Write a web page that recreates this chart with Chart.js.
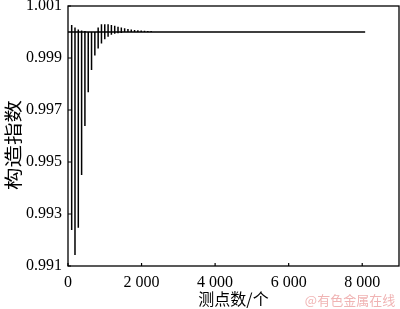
<!DOCTYPE html>
<html><head><meta charset="utf-8">
<script src="https://cdn.jsdelivr.net/npm/chart.js@4.4.0/dist/chart.umd.min.js"></script>
<style>html,body{margin:0;padding:0;background:#fff;}#wrap{width:400px;height:309px;position:relative;}</style>
</head><body><div id="wrap"><canvas id="c"></canvas></div>
<script>
const spikeX = [100,190,280,370,460,550,640,730,820,910,1000,1090,1180,1270,1360,1450,1540,1630,1720,1810,1900,1990,2080,2170,2260,2350,2440,2530,2620,2710,2800,2890,2980,3070,3160,3250];
const spikeHigh = [1.00027,1.00017,1.00010,1.00006,1.00004,1.00003,1.00002,1.00003,1.00017,1.00030,1.00030,1.00030,1.00027,1.00024,1.00020,1.00017,1.00014,1.00012,1.00010,1.00008,1.00007,1.00006,1.00005,1.00004,1.00004,1.00003,1.00003,1.00002,1.00002,1.00002,1.00001,1.00001,1.00001,1.00001,1.000005,1.000005];
const spikeLow = [0.99238,0.99142,0.99247,0.99450,0.99638,0.99768,0.99854,0.99910,0.99937,0.99956,0.99972,0.99982,0.99989,0.99993,0.99995,0.99996,0.99997,0.99997,0.99998,0.99998,0.99998,0.99999,0.99999,0.99999,0.99999,0.99999,0.99999,0.999995,0.999995,0.999995,0.999995,0.999995,0.999995,0.999995,0.999995,0.999995];
const seriesStart = 0;
const seriesEnd = 8080;
const baseValue = 1.0;
const xTicks = [0,2000,4000,6000,8000];
const xTickLabels = ['0','2 000','4 000','6 000','8 000'];
const yTicks = [0.991,0.993,0.995,0.997,0.999,1.001];
const yTickLabels = ['0.991','0.993','0.995','0.997','0.999','1.001'];
const xTitle = '测点数/个';
const yTitle = '构造指数';
const watermark = '@有色金属在线';

const points = [{x: seriesStart, y: baseValue}];
spikeX.forEach((x, i) => {
  points.push({x, y: baseValue}, {x, y: spikeHigh[i]}, {x, y: spikeLow[i]}, {x, y: baseValue});
});
points.push({x: seriesEnd, y: baseValue});

const framePlugin = {
  id: 'frame',
  afterDraw(chart) {
    const {ctx, chartArea: a, scales} = chart;
    ctx.save();
    ctx.strokeStyle = '#000';
    ctx.lineWidth = 1.3;
    ctx.strokeRect(a.left, a.top, a.right - a.left, a.bottom - a.top);
    ctx.lineWidth = 1.2;
    ctx.beginPath();
    scales.x.ticks.forEach(t => {
      const px = scales.x.getPixelForValue(t.value);
      ctx.moveTo(px, a.bottom); ctx.lineTo(px, a.bottom - 3);
    });
    scales.y.ticks.forEach(t => {
      const py = scales.y.getPixelForValue(t.value);
      ctx.moveTo(a.left, py); ctx.lineTo(a.left + 3, py);
    });
    ctx.stroke();
    ctx.fillStyle = '#000';
    ctx.font = '18px "Noto Sans CJK SC"';
    ctx.textAlign = 'center';
    ctx.textBaseline = 'middle';
    ctx.translate(13, (a.top + a.bottom) / 2 + 9);
    ctx.rotate(-Math.PI / 2);
    ctx.scale(1.25, 1);
    ctx.fillText(yTitle, 0, 0);
    ctx.restore();
    ctx.save();
    ctx.fillStyle = '#f0b4b4';
    ctx.font = '13px "Noto Sans CJK SC"';
    ctx.textAlign = 'center';
    ctx.textBaseline = 'middle';
    ctx.fillText(watermark, 350, 300);
    ctx.restore();
  }
};

new Chart(document.getElementById('c'), {
  type: 'line',
  data: {datasets: [{data: points, borderColor: '#000', borderWidth: 1.5, pointRadius: 0, fill: false, tension: 0}]},
  options: {
    responsive: true, maintainAspectRatio: false, animation: false,
    layout: {padding: {top: 6, right: 1, left: 0, bottom: 0}},
    plugins: {legend: {display: false}, tooltip: {enabled: false}},
    scales: {
      x: {
        type: 'linear', min: 0, max: 9000,
        afterBuildTicks: s => { s.ticks = xTicks.map(v => ({value: v})); },
        afterFit: s => { s.height = 43; s.paddingLeft = 0; s.paddingRight = 0; },
        ticks: {callback: (v, i) => xTickLabels[i], font: {family: 'Liberation Serif', size: 16}, color: '#000', padding: 7, maxRotation: 0, autoSkip: false},
        grid: {display: false, drawTicks: false},
        border: {display: false},
        title: {display: true, text: xTitle, font: {family: 'Noto Sans CJK SC', size: 16}, color: '#000', padding: {top: 0, bottom: 0}}
      },
      y: {
        type: 'linear', min: 0.991, max: 1.001,
        afterBuildTicks: s => { s.ticks = yTicks.map(v => ({value: v})); },
        afterFit: s => { s.width = 68; s.paddingTop = 0; s.paddingBottom = 0; },
        ticks: {callback: (v, i) => yTickLabels[i], font: {family: 'Liberation Serif', size: 16}, color: '#000', padding: 6, autoSkip: false},
        grid: {display: false, drawTicks: false},
        border: {display: false}
      }
    }
  },
  plugins: [framePlugin]
});
</script></body></html>
